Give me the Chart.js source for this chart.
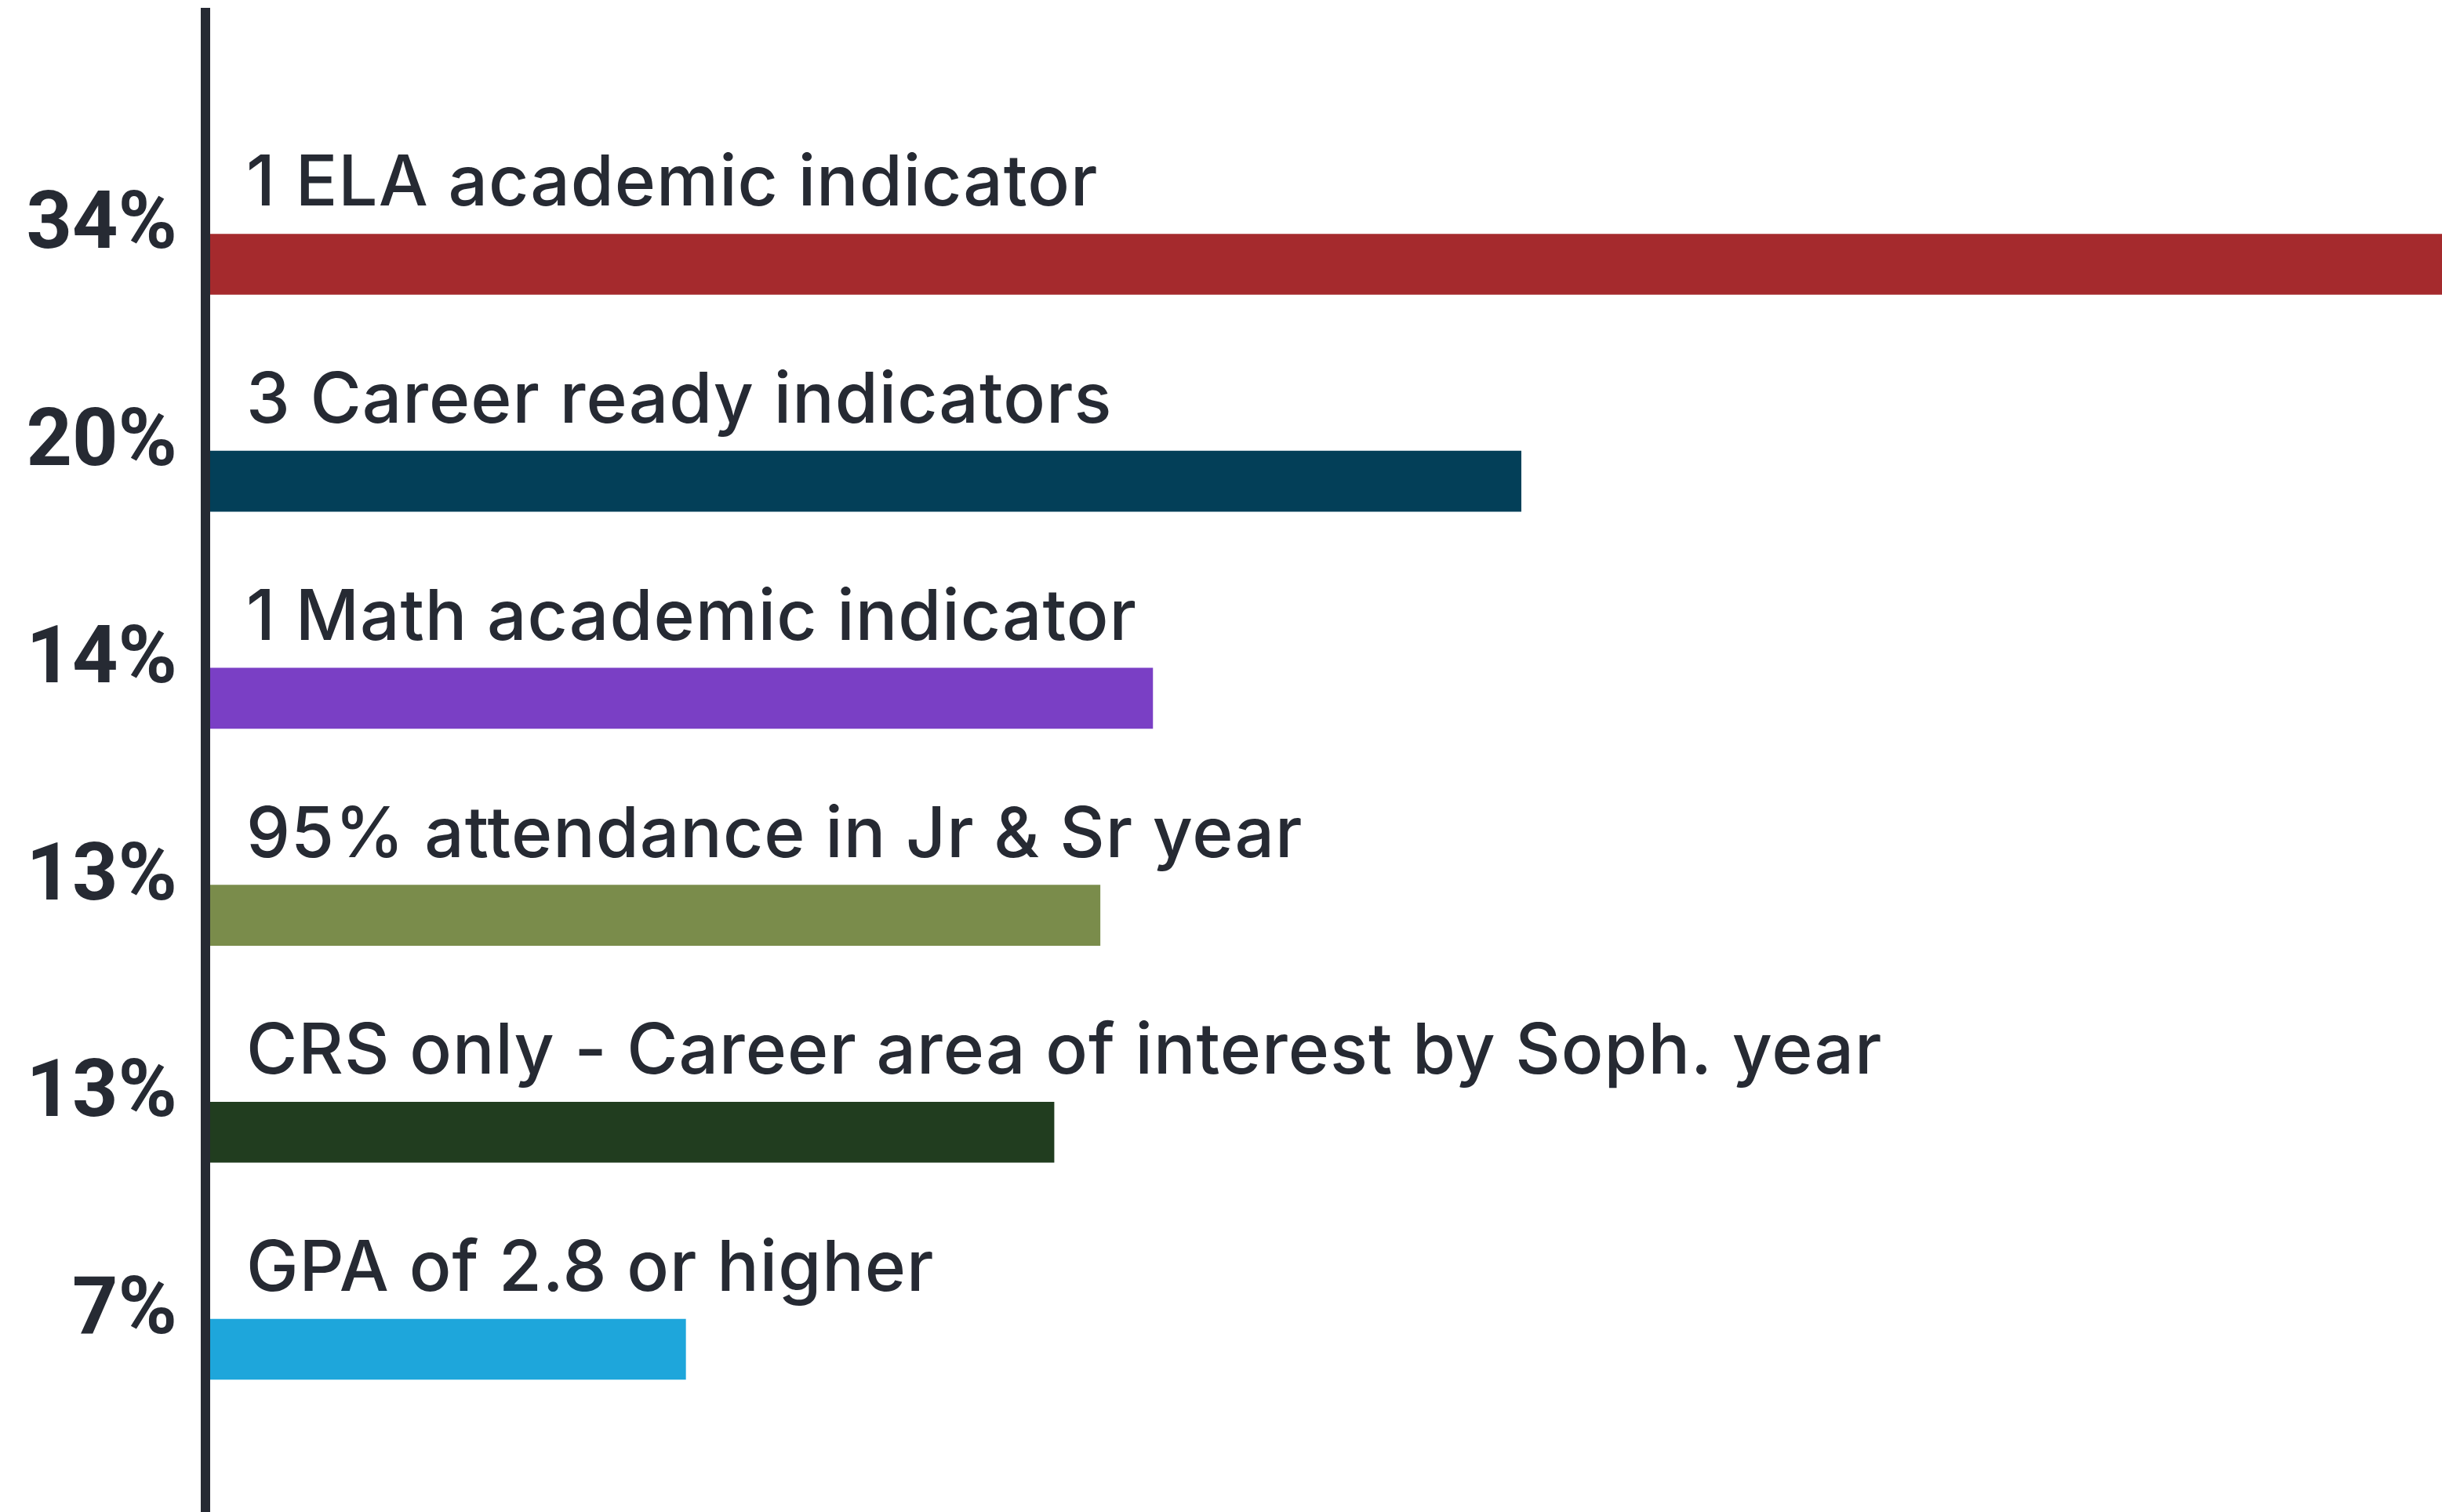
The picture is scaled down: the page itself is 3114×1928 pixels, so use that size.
<!DOCTYPE html>
<html>
<head>
<meta charset="utf-8">
<script src="https://cdn.jsdelivr.net/npm/chart.js@4.4.0/dist/chart.umd.min.js"></script>
<style>
  html, body { margin: 0; padding: 0; background: #ffffff; }
  #wrap { width: 3114px; height: 1928px; }
</style>
</head>
<body>
<div id="wrap"><canvas id="shareChart" width="3114" height="1928"></canvas></div>
<script>
  // Data
  const categories = [
    '1 ELA academic indicator',
    '3 Career ready indicators',
    '1 Math academic indicator',
    '95% attendance in Jr & Sr year',
    'CRS only - Career area of interest by Soph. year',
    'GPA of 2.8 or higher'
  ];
  const shareValues = [34, 20.0, 14.4, 13.6, 12.9, 7.3];
  const shareLabels = ['34%', '20%', '14%', '13%', '13%', '7%'];
  const barColors = ['#a52a2d', '#033f58', '#7a3fc5', '#7a8c4b', '#213d1f', '#1ea6db'];

  const textColor = '#262a33';

  // Category text above each bar
  const barLabelPlugin = {
    id: 'barLabels',
    afterDatasetsDraw(chart) {
      const ctx = chart.ctx;
      const meta = chart.getDatasetMeta(0);
      ctx.save();
      ctx.font = '500 89px Inter';
      ctx.letterSpacing = '1px';
      ctx.fillStyle = textColor;
      ctx.textAlign = 'left';
      ctx.textBaseline = 'alphabetic';
      meta.data.forEach((bar, i) => {
        ctx.fillText(categories[i], chart.chartArea.left + 52, bar.y - bar.height / 2 - 36);
      });
      ctx.restore();
    }
  };

  const ctx = document.getElementById('shareChart').getContext('2d');
  const shareChart = new Chart(ctx, {
    type: 'bar',
    data: {
      datasets: [{
        data: shareValues.map((v, i) => ({ x: v, y: i })),
        backgroundColor: barColors,
        borderWidth: 0,
        barThickness: 77
      }]
    },
    options: {
      indexAxis: 'y',
      responsive: false,
      devicePixelRatio: 1,
      animation: false,
      layout: { padding: { top: 16, right: 0, bottom: 0, left: 0 } },
      plugins: {
        legend: { display: false },
        tooltip: { enabled: false }
      },
      scales: {
        x: {
          type: 'linear',
          display: false,
          min: 0,
          max: 34
        },
        y: {
          type: 'linear',
          reverse: true,
          offset: false,
          min: -1.16,
          max: 5.75,
          afterBuildTicks: (scale) => {
            scale.ticks = shareLabels.map((_, i) => ({ value: i }));
          },
          afterFit: (scale) => {
            scale.width = 262;
            scale.paddingTop = 0;
            scale.paddingBottom = 0;
          },
          grid: { display: false, drawTicks: false },
          border: { display: true, color: textColor, width: 12, z: 1 },
          ticks: {
            autoSkip: false,
            padding: 36,
            labelOffset: -46,
            color: textColor,
            font: { family: 'Roboto', size: 102, weight: '700' },
            callback: (value, index) => shareLabels[index]
          }
        }
      }
    },
    plugins: [barLabelPlugin]
  });
</script>
</body>
</html>
